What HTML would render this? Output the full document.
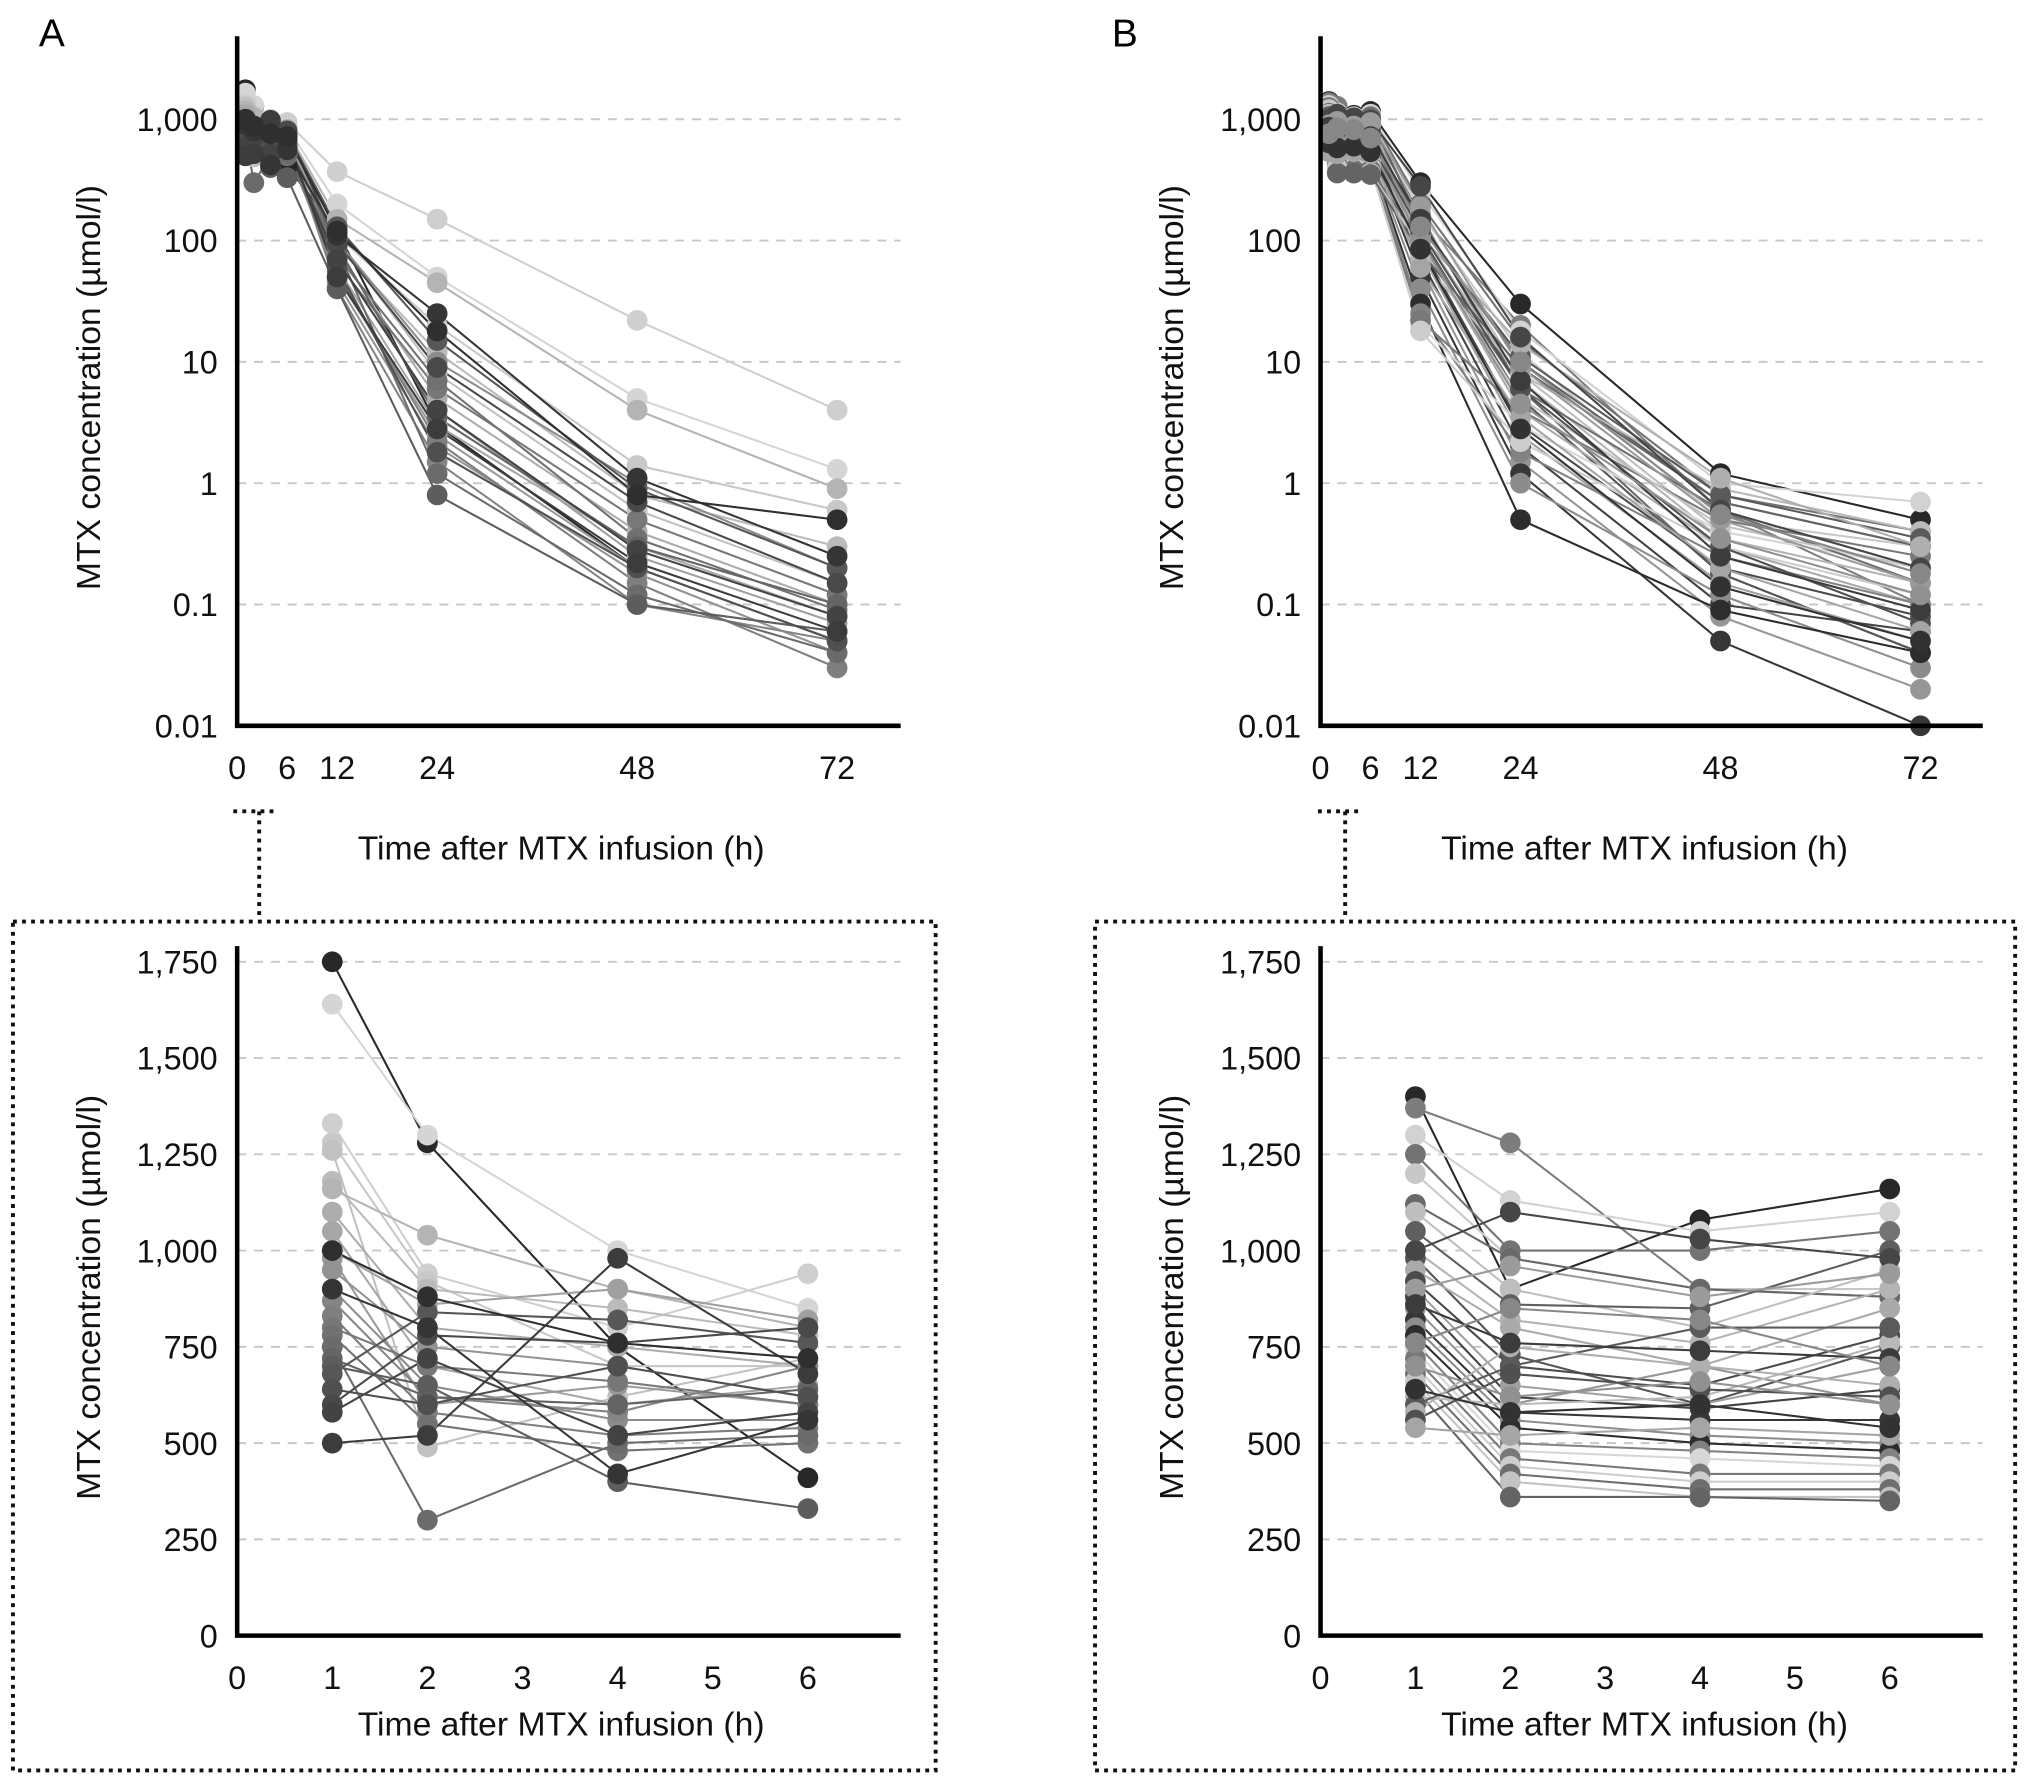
<!DOCTYPE html>
<html><head><meta charset="utf-8"><style>
html,body{margin:0;padding:0;background:#fff;}
svg{display:block;font-family:"Liberation Sans",Arial,sans-serif;}
</style></head><body>
<svg id="fig" width="2032" height="1786" viewBox="0 0 1568 1378" preserveAspectRatio="none" xmlns="http://www.w3.org/2000/svg">
<rect width="1568" height="1378" fill="#fff"/>
<text x="30" y="36" font-size="30">A</text>
<text x="858" y="36" font-size="30">B</text>
<rect x="10" y="711" width="712" height="655" fill="none" stroke="#111" stroke-width="3" stroke-dasharray="3,4"/>
<rect x="845" y="711" width="710" height="655" fill="none" stroke="#111" stroke-width="3" stroke-dasharray="3,4"/>
<path d="M180 626 H214 M200 626 V710" fill="none" stroke="#111" stroke-width="3" stroke-dasharray="3,4"/>
<path d="M1017 626 H1052 M1038 626 V710" fill="none" stroke="#111" stroke-width="3" stroke-dasharray="3,4"/>
</svg>
<script>
const times = [1,2,4,6,12,24,48,72];
const logTicks = [0.01,0.1,1,10,100,1000];
const logTickLabels = ["0.01","0.1","1","10","100","1,000"];
const linTicks = [0,250,500,750,1000,1250,1500,1750];
const linTickLabels = ["0","250","500","750","1,000","1,250","1,500","1,750"];
const topXTicks = [0,6,12,24,48,72];
const botXTicks = [0,1,2,3,4,5,6];
const seriesA = [
[1750,1280,750,410,120,3,0.2,0.05],
[1640,1300,1000,850,200,50,5,1.3],
[1330,940,800,940,370,150,22,4],
[1280,920,700,700,110,20,1.4,0.6],
[1260,490,620,720,100,8,0.6,0.15],
[1180,900,850,780,90,12,0.8,0.3],
[1160,1040,900,800,150,45,4,0.9],
[1100,800,750,700,80,5,0.4,0.1],
[1050,700,600,650,60,3,0.3,0.08],
[1000,860,900,820,70,4,0.25,0.07],
[980,600,650,600,50,2.5,0.2,0.05],
[950,750,700,620,45,2,0.18,0.04],
[900,650,560,560,100,10,1,0.2],
[870,620,580,700,40,1.5,0.1,0.05],
[830,580,520,540,55,2.2,0.15,0.03],
[800,700,660,600,65,6,0.5,0.12],
[780,550,480,500,75,7,0.35,0.09],
[750,300,500,520,85,1.2,0.12,0.04],
[720,620,600,640,90,3.5,0.3,0.1],
[700,650,400,330,40,0.8,0.1,0.06],
[680,840,820,760,130,15,0.9,0.2],
[640,600,700,620,60,1.8,0.2,0.05],
[600,780,760,800,95,9,0.7,0.15],
[580,720,520,580,70,4,0.28,0.08],
[500,520,980,680,50,2.8,0.22,0.06],
[900,800,420,560,110,25,1.1,0.25],
[1000,880,760,720,120,18,0.8,0.5]
];
const seriesB = [
[1400,900,1080,1160,300,30,1.2,0.5],
[1370,1280,900,880,160,20,0.6,0.1],
[1300,1130,1050,1100,250,18,1,0.7],
[1250,1000,1000,1050,200,15,0.8,0.4],
[1200,980,900,900,170,12,0.5,0.3],
[1120,980,900,880,160,6,0.18,0.04],
[1100,900,800,950,150,8,0.4,0.2],
[1050,860,850,1000,140,10,0.7,0.3],
[1000,820,760,900,120,7,0.35,0.15],
[980,730,600,750,110,5,0.18,0.04],
[950,800,700,850,100,4,0.3,0.1],
[920,700,650,780,90,3,0.2,0.08],
[900,650,600,700,80,2.5,0.15,0.05],
[880,620,590,640,70,2,0.1,0.06],
[850,600,700,600,60,1.5,0.08,0.02],
[820,580,560,560,50,1.2,0.05,0.01],
[800,560,520,500,40,1,0.12,0.03],
[780,540,500,480,30,0.5,0.09,0.04],
[760,500,480,460,25,1.8,0.25,0.1],
[740,480,460,440,20,3,0.4,0.2],
[720,460,420,420,22,4,0.5,0.25],
[700,440,400,400,18,2.2,0.3,0.12],
[680,420,380,380,100,6,0.6,0.15],
[660,400,360,360,90,5,0.45,0.2],
[640,360,360,350,80,9,0.7,0.3],
[620,600,620,760,70,8,0.9,0.4],
[600,700,800,800,130,11,0.8,0.35],
[580,750,700,650,110,14,1.1,0.3],
[560,680,640,620,120,6,0.3,0.07],
[540,520,540,520,60,3.5,0.2,0.06],
[1000,1100,1030,980,280,16,0.6,0.2],
[900,960,880,940,190,9,0.5,0.15],
[860,760,740,720,150,7,0.25,0.09],
[700,620,660,600,100,4.5,0.35,0.12],
[640,580,600,540,85,2.8,0.14,0.05],
[760,850,820,700,130,10,0.55,0.18]
];
const NS="http://www.w3.org/2000/svg";
const svg=document.getElementById('fig');
function mk(tag,attrs,parent){const e=document.createElementNS(NS,tag);for(const k in attrs)e.setAttribute(k,attrs[k]);(parent||svg).appendChild(e);return e;}
function gray(i,n){const v=Math.round(40+((i*53)%n)/n*180);const h=v.toString(16).padStart(2,'0');return '#'+h+h+h;}

function panel(opt){
  const g=mk('g',{});
  
  
  const xs=t=>opt.x0+t*opt.xk;
  const ys=opt.log?(v=>opt.yBase-(Math.log10(v)+2)*opt.yk):(v=>opt.yBase-v*opt.yk);
  opt.yt.forEach((v,i)=>{
    const y=ys(v);
    if(i>0){const l=mk('line',{x1:opt.x0,x2:opt.xEnd,y1:y,y2:y,stroke:'#c8c8c8','stroke-width':1.5,'stroke-dasharray':'7,6'},g);
      
      }
    const t=mk('text',{x:opt.x0-15,y:y+9,'font-size':25,'text-anchor':'end',fill:'#111'},g);
    t.textContent=opt.ytl[i];
    
    
  });
  opt.xt.forEach(v=>{
    const t=mk('text',{x:xs(v),y:opt.yBase+41,'font-size':25,'text-anchor':'middle',fill:'#111'},g);
    t.textContent=String(v);
    
    
  });
  const n=opt.data.length;
  const useT=opt.log?times:times.slice(0,4);
  opt.data.forEach((s,i)=>{
    const c=gray(i,n);
    const pts=useT.map((t,j)=>xs(t).toFixed(1)+','+ys(s[j]).toFixed(1)).join(' ');
    const pl=mk('polyline',{points:pts,fill:'none',stroke:c,'stroke-width':1.6},g);
    
    
  });
  opt.data.forEach((s,i)=>{
    const c=gray(i,n);
    useT.forEach((t,j)=>{
      const ci=mk('circle',{cx:xs(t),cy:ys(s[j]),r:8,fill:c},g);
      
      
    });
  });
  const ax=mk('path',{d:`M${opt.x0} ${opt.yTop} V${opt.yBase} H${opt.xEnd}`,fill:'none',stroke:'#000','stroke-width':3.5},g);
  
  
  const xt=mk('text',{x:opt.x0+250,y:opt.yBase+103-(opt.log?0:26),'font-size':26,'text-anchor':'middle',fill:'#111'},g);
  xt.textContent='Time after MTX infusion (h)';
  
  
  const cy=(opt.yTop+opt.yBase)/2+5;
  const yt=mk('text',{x:0,y:0,'font-size':26,'text-anchor':'middle',fill:'#111',transform:`translate(${opt.x0-106},${cy}) rotate(-90)`},g);
  yt.textContent='MTX concentration (µmol/l)';
  
  
}
panel({name:'panel-a-top',log:true,x0:183,xk:6.43,xEnd:695,yBase:560,yTop:28,yk:93.6,yt:logTicks,ytl:logTickLabels,xt:topXTicks,data:seriesA});
panel({name:'panel-b-top',log:true,x0:1019,xk:6.43,xEnd:1530,yBase:560,yTop:28,yk:93.6,yt:logTicks,ytl:logTickLabels,xt:topXTicks,data:seriesB});
panel({name:'panel-a-bottom',log:false,x0:183,xk:73.4,xEnd:695,yBase:1262,yTop:730,yk:0.2971,yt:linTicks,ytl:linTickLabels,xt:botXTicks,data:seriesA});
panel({name:'panel-b-bottom',log:false,x0:1019,xk:73.2,xEnd:1530,yBase:1262,yTop:730,yk:0.2971,yt:linTicks,ytl:linTickLabels,xt:botXTicks,data:seriesB});
</script>
</body></html>
